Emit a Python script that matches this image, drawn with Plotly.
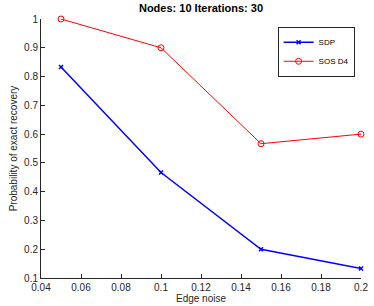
import plotly.graph_objects as go

edge_noise = [0.05, 0.1, 0.15, 0.2]
sdp = [0.8333, 0.4667, 0.2, 0.1333]
sos_d4 = [1.0, 0.9, 0.5667, 0.6]
x_ticks = [0.04, 0.06, 0.08, 0.1, 0.12, 0.14, 0.16, 0.18, 0.2]
x_tick_text = ["0.04", "0.06", "0.08", "0.1", "0.12", "0.14", "0.16", "0.18", "0.2"]
y_ticks = [0.1, 0.2, 0.3, 0.4, 0.5, 0.6, 0.7, 0.8, 0.9, 1.0]
y_tick_text = ["0.1", "0.2", "0.3", "0.4", "0.5", "0.6", "0.7", "0.8", "0.9", "1"]

FONT = "Liberation Sans, Arial"

fig = go.Figure()
fig.add_trace(go.Scatter(x=edge_noise, y=sdp, mode="lines+markers", name="SDP",
                         line=dict(color="#0000ff", width=1.5),
                         marker=dict(symbol="x-thin", size=4, line=dict(color="#0000ff", width=1.5)),
                         cliponaxis=False))
fig.add_trace(go.Scatter(x=edge_noise, y=sos_d4, mode="lines+markers", name="SOS D4",
                         line=dict(color="#ff0000", width=1),
                         marker=dict(symbol="circle-open", size=6, color="#ff0000", line=dict(width=1)),
                         cliponaxis=False))

axis_common = dict(showgrid=False, zeroline=False, showline=True, linecolor="#262626", linewidth=1,
                   ticks="inside", ticklen=4, tickcolor="#262626", tickwidth=1,
                   ticklabeloverflow="allow",
                   tickfont=dict(family=FONT, size=10, color="#262626"))
fig.update_xaxes(range=[0.04, 0.2], tickvals=x_ticks, ticktext=x_tick_text,
                 title=dict(text="Edge noise", font=dict(family=FONT, size=10, color="#262626"), standoff=0),
                 **axis_common)
fig.update_yaxes(range=[0.1, 1.0], tickvals=y_ticks, ticktext=y_tick_text,
                 title=dict(text="Probability of exact recovery", font=dict(family=FONT, size=10, color="#262626"), standoff=4),
                 **axis_common)

fig.update_layout(
    width=374, height=306,
    margin=dict(l=41, r=6, t=19, b=28),
    paper_bgcolor="white", plot_bgcolor="white",
    title=dict(text="<b>Nodes: 10 Iterations: 30</b>", x=0.5, xanchor="center", xref="paper",
               y=0.985, yanchor="top",
               font=dict(family=FONT, size=11, color="black")),
    legend=dict(x=0.98, y=0.97, xanchor="right", yanchor="top", bgcolor="white",
                bordercolor="#262626", borderwidth=1,
                font=dict(family=FONT, size=8, color="black"),
                tracegroupgap=0, itemwidth=30),
    showlegend=True,
)

fig.write_html("out.html", config={"displayModeBar": False},
               post_script="document.body.style.margin='0';document.body.style.overflow='hidden';")
